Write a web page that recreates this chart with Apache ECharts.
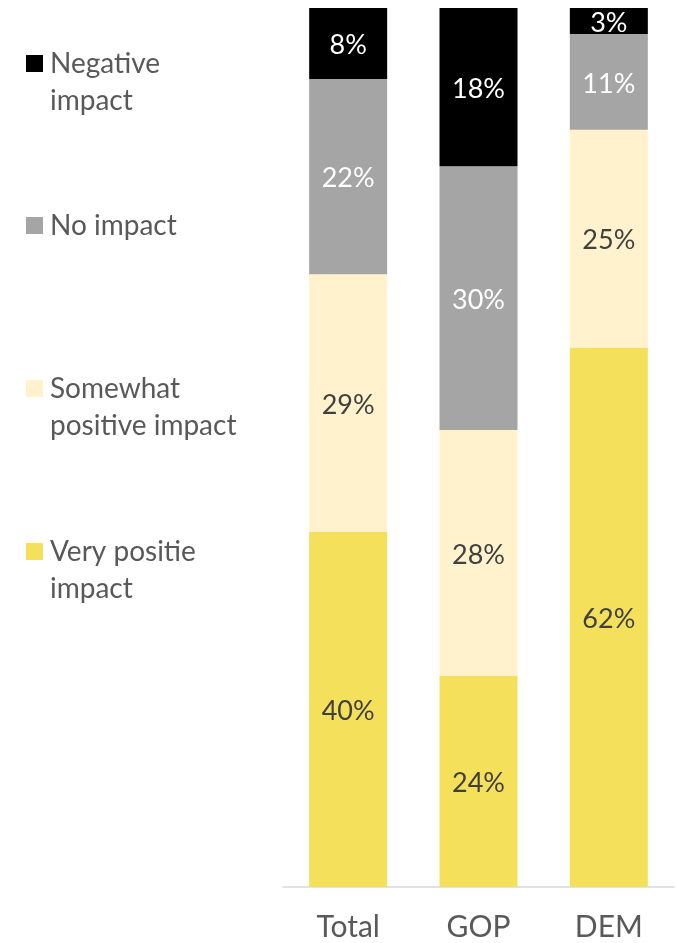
<!DOCTYPE html>
<html>
<head>
<meta charset="utf-8">
<script src="https://cdn.jsdelivr.net/npm/echarts@6/dist/echarts.min.js"></script>
<style>
  html, body { margin: 0; padding: 0; background: #ffffff; }
  #chart { width: 677px; height: 943px; }
</style>
</head>
<body>
<div id="chart"></div>
<script>
// Survey responses by group (percent of respondents)
const categories = ['Total', 'GOP', 'DEM'];
const veryPositive = [40, 24, 62];
const somewhatPositive = [29, 28, 25];
const noImpact = [22, 30, 11];
const negativeImpact = [8, 18, 3];

// Series names, bottom of the stack first
const seriesNames = ['Very positie impact', 'Somewhat positive impact', 'No impact', 'Negative impact'];
// Legend text as it wraps, top entry first
const legendLines = [
  ['Negative', 'impact'],
  ['No impact'],
  ['Somewhat', 'positive impact'],
  ['Very positie', 'impact']
];

const colors = ['#f4e05a', '#fff2cc', '#a5a5a5', '#000000'];
const labelColors = ['#404040', '#404040', '#ffffff', '#ffffff'];
const FONT = 'Lato, "Open Sans", sans-serif';

const stacks = [veryPositive, somewhatPositive, noImpact, negativeImpact];
// Each column is drawn as a 100% stack: shares of that column's own total
const columnTotals = categories.map((_, c) => stacks.reduce((s, arr) => s + arr[c], 0));

const series = stacks.map((arr, k) => ({
  name: seriesNames[k],
  type: 'bar',
  stack: 'share',
  barWidth: 78,
  itemStyle: { color: colors[k] },
  label: {
    show: true,
    position: 'inside',
    offset: [0, 2],
    color: labelColors[k],
    fontFamily: FONT,
    fontSize: 27,
    formatter: p => arr[p.dataIndex] + '%'
  },
  data: arr.map((v, c) => v / columnTotals[c] * 100)
}));

// Legend drawn at the left, top entry = top of stack
const legendTops = [64, 226, 389, 552];
const legendGraphics = [];
legendLines.forEach((lines, i) => {
  const k = seriesNames.length - 1 - i;
  legendGraphics.push({
    type: 'rect',
    shape: { x: 26, y: legendTops[i] - 9, width: 17, height: 17 },
    style: { fill: colors[k] }
  });
  legendGraphics.push({
    type: 'text',
    x: 50,
    y: legendTops[i] - 19,
    style: {
      text: lines.join('\n'),
      fill: '#595959',
      font: '28px ' + FONT,
      lineHeight: 37,
      verticalAlign: 'top'
    }
  });
});

const chart = echarts.init(document.getElementById('chart'), null, { renderer: 'canvas' });
chart.setOption({
  animation: false,
  grid: { left: 283, right: 3, top: 8, bottom: 56, containLabel: false },
  xAxis: {
    type: 'category',
    data: categories,
    axisLine: { show: true, lineStyle: { color: '#d9d9d9', width: 1.5 } },
    axisTick: { show: false },
    axisLabel: { color: '#595959', fontFamily: FONT, fontSize: 30, margin: 25 }
  },
  yAxis: {
    type: 'value',
    min: 0,
    max: 100,
    show: false,
    splitLine: { show: false }
  },
  series: series,
  graphic: legendGraphics
});
</script>
</body>
</html>
